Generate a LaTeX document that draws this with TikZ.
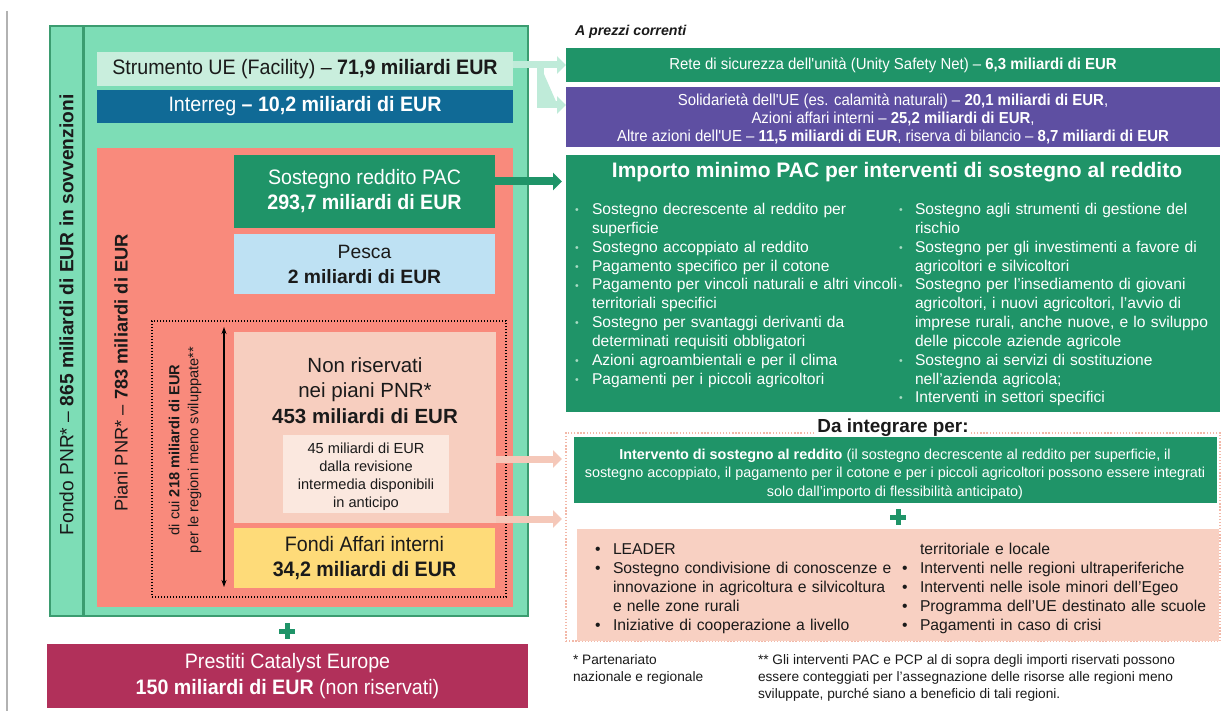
\documentclass[tikz,border=0pt]{standalone}
\usepackage{fontspec}
\setmainfont{Liberation Sans}
\newfontfamily\apt[FakeStretch=0.94]{Liberation Sans}
\usetikzlibrary{arrows.meta,calc}
\definecolor{mint}{HTML}{7DDDB6}
\definecolor{mintb}{HTML}{3B9C70}
\definecolor{strumf}{HTML}{C9EEDD}
\definecolor{interregc}{HTML}{106A96}
\definecolor{salmon}{HTML}{F98A7C}
\definecolor{dgreen}{HTML}{1F9468}
\definecolor{pescac}{HTML}{BEE1F3}
\definecolor{nonrisc}{HTML}{F7CEBF}
\definecolor{smallc}{HTML}{FBE8DF}
\definecolor{fondic}{HTML}{FEDB79}
\definecolor{prestc}{HTML}{B1305A}
\definecolor{purplec}{HTML}{5E4FA2}
\definecolor{peachc}{HTML}{F8D0C2}
\definecolor{peachdot}{HTML}{F2B8A8}
\definecolor{mintarr}{HTML}{BFEBD9}
\definecolor{peacharr}{HTML}{F5C8B9}
\definecolor{bulg}{HTML}{A9DCC4}
\definecolor{darktext}{HTML}{1A1A1A}
\newcommand{\fsz}[2]{\fontsize{#1}{#2}\selectfont}
\newcommand{\gb}[1]{\par\noindent\makebox[#1][l]{\raisebox{0.8pt}{\textcolor{bulg}{\fsz{10.5}{11}\textbullet}}}}
\newcommand{\pb}[1]{\par\noindent\makebox[#1][l]{\textbullet}}
\newcommand{\gcont}[1]{\par\noindent\hspace*{#1}}
\tikzset{
  panel/.style={inner sep=0pt, outer sep=0pt, anchor=north west, align=center},
  txt/.style={inner sep=0pt, outer sep=0pt},
  fatarrow/.style={line width=7pt, -{Triangle[length=9pt,width=17pt]}},
  plusst/.style={line width=5pt, draw=dgreen},
}
\begin{document}
\begin{tikzpicture}[x=1pt,y=-1pt]
\useasboundingbox (0,0) rectangle (1222,711);
\fill[white] (0,0) rectangle (1222,711);
% grey rule
\coordinate (gl1) at (7,11);
\coordinate (gl2) at (7,711);
\draw[gray!60, line width=1.3pt] (gl1) -- (gl2);

% ---------- left panel ----------
\node[panel, fill=mint, draw=mintb, line width=1.2pt, minimum width=33pt, minimum height=590pt] (fondo) at (50,26) {};
\node[panel, fill=mint, draw=mintb, line width=1.2pt, minimum width=444pt, minimum height=590pt] (inner) at (84,26) {};
\node[txt, rotate=90, text=darktext, font=\fsz{19.2}{22}] (fondoT) at (66.5,315) {Fondo PNR* – \textbf{865 miliardi di EUR in sovvenzioni}};

\node[panel, fill=strumf, minimum width=416pt, minimum height=34pt, text=darktext, font=\apt\fsz{20.9}{25}] (strum) at (97,52) {Strumento UE (Facility) – \textbf{71,9 miliardi EUR}};
\node[panel, fill=interregc, minimum width=416pt, minimum height=33pt, text=white, font=\apt\fsz{20.9}{25}] (interreg) at (97,90) {Interreg \textbf{– 10,2 miliardi di EUR}};

\node[panel, fill=salmon, minimum width=416pt, minimum height=459pt] (piani) at (97,148) {};
\node[txt, rotate=90, text=darktext, font=\fsz{18.3}{22}] (pianiT) at (121,373) {Piani PNR* – \textbf{783 miliardi di EUR}};

\node[panel, fill=dgreen, minimum width=261pt, minimum height=73pt, text=white, font=\apt\fsz{20.9}{25}] (sost) at (234,155) {Sostegno reddito PAC\\\textbf{293,7 miliardi di EUR}};
\node[panel, fill=pescac, minimum width=261pt, minimum height=60pt, text=darktext, font=\fsz{19.3}{25}] (pesca) at (234,234) {Pesca\\\textbf{2 miliardi di EUR}};

\coordinate (ar1) at (224,327);
\coordinate (ar2) at (224,587);
\draw[{Stealth[length=7pt,width=5pt]}-{Stealth[length=7pt,width=5pt]}, line width=1.1pt] (ar1) -- (ar2);
\node[txt, rotate=90, align=center, text=darktext, font=\fsz{14.6}{19}] (cui) at (185,450) {di cui \textbf{218 miliardi di EUR}\\per le regioni meno sviluppate**};

\node[panel, fill=nonrisc, minimum width=262pt, minimum height=191pt] (nonris) at (234,332) {};
\node[txt, align=center, text=darktext, font=\fsz{20.5}{25.5}] (nonrisT) at (365,390.5) {Non riservati\\nei piani PNR*\\\textbf{453 miliardi di EUR}};
\node[panel, fill=smallc, minimum width=166pt, minimum height=78pt] (small) at (283,435) {};
\node[txt, align=center, text=darktext, font=\fsz{14.6}{17.9}] (smallT) at (366,477) {45 miliardi di EUR\\dalla revisione\\intermedia disponibili\\in anticipo};
\node[panel, fill=fondic, minimum width=261pt, minimum height=60pt, text=darktext, font=\apt\fsz{20.9}{25}] (fondi) at (234,528) {Fondi Affari interni\\\textbf{34,2 miliardi di EUR}};

% peach arrow anchors
\coordinate (pa1) at ($(nonris.east)+(0,31.5)$);
\coordinate (pa2) at ($(nonris.east)+(0,91.5)$);

\node[panel, draw=black, line width=1.2pt, dash pattern=on 1.2pt off 1.8pt, minimum width=354pt, minimum height=276pt] (dot) at (152,321) {};

\coordinate (plusL) at (287,631);
\draw[plusst] ($(plusL)+(-8,0)$) -- ($(plusL)+(8,0)$) ($(plusL)+(0,-8)$) -- ($(plusL)+(0,8)$);

\node[panel, fill=prestc, minimum width=481pt, minimum height=64pt, text=white, font=\apt\fsz{20.9}{26}] (prest) at (47,644) {Prestiti Catalyst Europe\\\textbf{150 miliardi di EUR} (non riservati)};

% ---------- right panel ----------
\node[txt, anchor=west, text=darktext, font=\bfseries\itshape\fsz{14.2}{17}] (prezzi) at (575,32) {A prezzi correnti};
\node[panel, fill=dgreen, minimum width=654pt, minimum height=34pt, text=white, font=\apt\fsz{15.9}{18}] (rete) at (566,48) {Rete di sicurezza dell'unità (Unity Safety Net) – \textbf{6,3 miliardi di EUR}};
\node[panel, fill=purplec, minimum width=654pt, minimum height=60pt] (purple) at (566,87) {};
\node[txt, align=center, text=white, font=\apt\fsz{15.9}{18.3}] (purpleT) at (893,119) {Solidarietà dell'UE (es. calamità naturali) – \textbf{20,1 miliardi di EUR},\\Azioni affari interni – \textbf{25,2 miliardi di EUR},\\Altre azioni dell'UE – \textbf{11,5 miliardi di EUR}, riserva di bilancio – \textbf{8,7 miliardi di EUR}};

\node[panel, fill=dgreen, minimum width=654pt, minimum height=257pt] (big) at (566,155) {};
\node[txt, text=white, font=\bfseries\fsz{21}{24}] (bigT) at (897,172) {Importo minimo PAC per interventi di sostegno al reddito};
\node[txt, anchor=north west, text width=330pt, align=left, text=white, font=\fsz{15.6}{18.8}] (bigL) at (575,196) {%
\gb{17pt}Sostegno decrescente al reddito per
\gcont{17pt}superficie
\gb{17pt}Sostegno accoppiato al reddito
\gb{17pt}Pagamento specifico per il cotone
\gb{17pt}Pagamento per vincoli naturali e altri vincoli
\gcont{17pt}territoriali specifici
\gb{17pt}Sostegno per svantaggi derivanti da
\gcont{17pt}determinati requisiti obbligatori
\gb{17pt}Azioni agroambientali e per il clima
\gb{17pt}Pagamenti per i piccoli agricoltori};
\node[txt, anchor=north west, text width=315pt, align=left, text=white, font=\fsz{15.6}{18.8}] (bigR) at (899,196) {%
\gb{16pt}Sostegno agli strumenti di gestione del
\gcont{16pt}rischio
\gb{16pt}Sostegno per gli investimenti a favore di
\gcont{16pt}agricoltori e silvicoltori
\gb{16pt}Sostegno per l'insediamento di giovani
\gcont{16pt}agricoltori, i nuovi agricoltori, l'avvio di
\gcont{16pt}imprese rurali, anche nuove, e lo sviluppo
\gcont{16pt}delle piccole aziende agricole
\gb{16pt}Sostegno ai servizi di sostituzione
\gcont{16pt}nell'azienda agricola;
\gb{16pt}Interventi in settori specifici};

\node[panel, draw=peachdot, line width=1.3pt, dash pattern=on 1.3pt off 1.8pt, minimum width=654pt, minimum height=208pt] (integ) at (566,433) {};
\node[txt, fill=white, inner sep=2pt, text=darktext, font=\bfseries\fsz{18.9}{22}] (daint) at (893,428) {Da integrare per:};
\node[panel, fill=dgreen, minimum width=643pt, minimum height=66pt] (interv) at (574,437) {};
\node[txt, align=center, text=white, font=\fsz{14.4}{18.3}] (intervT) at (895,474) {\textbf{Intervento di sostegno al reddito} (il sostegno decrescente al reddito per superficie, il\\sostegno accoppiato, il pagamento per il cotone e per i piccoli agricoltori possono essere integrati\\solo dall'importo di flessibilità anticipato)};
\coordinate (plusR) at (898,517);
\draw[plusst] ($(plusR)+(-8,0)$) -- ($(plusR)+(8,0)$) ($(plusR)+(0,-8)$) -- ($(plusR)+(0,8)$);
\node[panel, fill=peachc, minimum width=642pt, minimum height=112pt] (peach) at (577,529) {};
\node[txt, anchor=north west, text width=320pt, align=left, text=darktext, font=\fsz{15.7}{18.8}] (peachL) at (595,536) {%
\pb{18pt}LEADER
\pb{18pt}Sostegno condivisione di conoscenze e
\gcont{18pt}innovazione in agricoltura e silvicoltura
\gcont{18pt}e nelle zone rurali
\pb{18pt}Iniziative di cooperazione a livello};
\node[txt, anchor=north west, text width=310pt, align=left, text=darktext, font=\fsz{15.7}{18.8}] (peachR) at (902,536) {%
\gcont{18pt}territoriale e locale
\pb{18pt}Interventi nelle regioni ultraperiferiche
\pb{18pt}Interventi nelle isole minori dell'Egeo
\pb{18pt}Programma dell'UE destinato alle scuole
\pb{18pt}Pagamenti in caso di crisi};

\node[txt, anchor=north west, align=left, text=darktext, font=\fsz{13.7}{16.8}] (fn1) at (573,655) {* Partenariato\\nazionale e regionale};
\node[txt, anchor=north west, align=left, text=darktext, font=\fsz{13.7}{16.8}] (fn2) at (758,655) {** Gli interventi PAC e PCP al di sopra degli importi riservati possono\\essere conteggiati per l'assegnazione delle risorse alle regioni meno\\sviluppate, purché siano a beneficio di tali regioni.};

% ---------- connectors ----------
\coordinate (sa) at (strum.east |- rete.west);
\coordinate (sb) at ($(sa)+(27,0)$);
\coordinate (sc) at ($(purple.west)+(0,-12)$);
\draw[fatarrow, draw=mintarr, fill=mintarr, line width=7pt] (sa) -- (rete.west);
\draw[fatarrow, draw=mintarr, fill=mintarr, line width=7pt] (sb) |- (sc);
\coordinate (ga) at ($(sost.east)+(0,-10)$);
\draw[fatarrow, draw=dgreen, fill=dgreen, line width=8pt, shorten >=4pt] (ga) -- (ga -| big.west);
\draw[fatarrow, draw=peacharr, fill=peacharr, shorten >=4pt] (pa1) -- (pa1 -| integ.west);
\draw[fatarrow, draw=peacharr, fill=peacharr, shorten >=4pt] (pa2) -- (pa2 -| integ.west);
\end{tikzpicture}
\end{document}
